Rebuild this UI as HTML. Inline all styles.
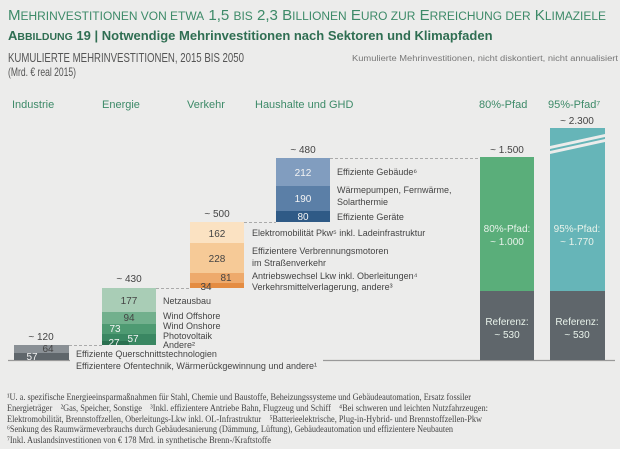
<!DOCTYPE html>
<html><head><meta charset="utf-8"><style>
body{margin:0;background:#ececeb}
svg{display:block}
text{font-family:"Liberation Sans",sans-serif}
.s{font-size:9px;fill:#444}
.n{font-size:10px;fill:#444;text-anchor:middle}
.w{font-size:10px;fill:#f4f4f4;text-anchor:middle}
.f{font-family:"Liberation Serif",serif;font-size:9.6px;fill:#444;white-space:pre}
</style></head><body>
<svg width="620" height="449" viewBox="0 0 620 449">
<rect width="620" height="449" fill="#ececeb"/>
<text x="8" y="20" font-size="14.5" fill="#3d8a68" textLength="598" lengthAdjust="spacingAndGlyphs">M<tspan font-size="11.5">EHRINVESTITIONEN VON ETWA</tspan> 1,5 <tspan font-size="11.5">BIS</tspan> 2,3 B<tspan font-size="11.5">ILLIONEN</tspan> E<tspan font-size="11.5">URO ZUR</tspan> E<tspan font-size="11.5">RREICHUNG DER</tspan> K<tspan font-size="11.5">LIMAZIELE</tspan></text>
<text x="8" y="40" font-size="13" font-weight="bold" fill="#2f6e52">A<tspan font-size="10.5">BBILDUNG</tspan> 19 | Notwendige Mehrinvestitionen nach Sektoren und Klimapfaden</text>
<text x="8" y="62" font-size="12.5" fill="#555" textLength="236" lengthAdjust="spacingAndGlyphs">KUMULIERTE MEHRINVESTITIONEN, 2015 BIS 2050</text>
<text x="8" y="76" font-size="12" fill="#555" textLength="68" lengthAdjust="spacingAndGlyphs">(Mrd. € real 2015)</text>
<text x="352" y="61" font-size="8" fill="#777" textLength="266" lengthAdjust="spacingAndGlyphs">Kumulierte Mehrinvestitionen, nicht diskontiert, nicht annualisiert</text>
<g font-size="11" fill="#3d8a68">
<text x="12" y="108">Industrie</text><text x="102" y="108">Energie</text><text x="187" y="108">Verkehr</text><text x="255" y="108">Haushalte und GHD</text><text x="479" y="108">80%-Pfad</text><text x="548" y="108">95%-Pfad⁷</text>
</g>
<line x1="8" y1="360.5" x2="70" y2="360.5" stroke="#999" stroke-width="1.2"/>
<line x1="323" y1="360.5" x2="615" y2="360.5" stroke="#999" stroke-width="1.2"/>
<g stroke="#aaa" stroke-dasharray="3,2">
<line x1="69" y1="345.5" x2="102" y2="345.5"/><line x1="156" y1="288.5" x2="190" y2="288.5"/><line x1="244" y1="222.5" x2="276" y2="222.5"/><line x1="330" y1="158.5" x2="480" y2="158.5"/>
</g>
<rect x="14" y="345" width="55" height="8" fill="#8a9095"/><rect x="14" y="353" width="55" height="7" fill="#5f666b"/>
<text class="n" x="41" y="340">~ 120</text>
<text class="n" x="48" y="352" fill="#333">64</text><text class="w" x="32" y="360">57</text>
<text class="s" x="76" y="357">Effiziente Querschnittstechnologien</text>
<text class="s" x="76" y="369">Effizientere Ofentechnik, Wärmerückgewinnung und andere¹</text>
<rect x="102" y="288" width="54" height="24" fill="#a9cdb6"/><rect x="102" y="312" width="54" height="12" fill="#72b08d"/><rect x="102" y="324" width="54" height="10" fill="#4e9a72"/><rect x="102" y="334" width="54" height="11" fill="#3a8762"/><rect x="102" y="341" width="27" height="4" fill="#2b7050"/>
<text class="n" x="129" y="282">~ 430</text>
<text class="n" x="129" y="304">177</text><text class="n" x="129" y="321">94</text><text class="w" x="115" y="332">73</text><text class="w" x="133" y="342">57</text><text class="w" x="114" y="346" font-size="9">27</text>
<text class="s" x="163" y="304">Netzausbau</text><text class="s" x="163" y="319">Wind Offshore</text><text class="s" x="163" y="329">Wind Onshore</text><text class="s" x="163" y="339">Photovoltaik</text><text class="s" x="163" y="348">Andere²</text>
<rect x="190" y="222" width="54" height="21" fill="#fbe2c2"/><rect x="190" y="243" width="54" height="30" fill="#f6ca97"/><rect x="190" y="273" width="54" height="10" fill="#eeaa6c"/><rect x="190" y="283" width="54" height="5" fill="#e48c42"/>
<text class="n" x="217" y="217">~ 500</text>
<text class="n" x="217" y="237">162</text><text class="n" x="217" y="262">228</text><text class="n" x="226" y="281">81</text><text class="n" x="206" y="290">34</text>
<text class="s" x="252" y="236">Elektromobilität Pkw⁵ inkl. Ladeinfrastruktur</text><text class="s" x="252" y="254">Effizientere Verbrennungsmotoren</text><text class="s" x="252" y="266">im Straßenverkehr</text><text class="s" x="252" y="279">Antriebswechsel Lkw inkl. Oberleitungen⁴</text><text class="s" x="252" y="290">Verkehrsmittelverlagerung, andere³</text>
<rect x="276" y="158" width="54" height="28" fill="#819dbf"/><rect x="276" y="186" width="54" height="25" fill="#5b7fa7"/><rect x="276" y="211" width="54" height="11" fill="#2f5a86"/>
<text class="n" x="303" y="153">~ 480</text>
<text class="w" x="303" y="176">212</text><text class="w" x="303" y="202">190</text><text class="w" x="303" y="220">80</text>
<text class="s" x="337" y="175">Effiziente Gebäude⁶</text><text class="s" x="337" y="193">Wärmepumpen, Fernwärme,</text><text class="s" x="337" y="205">Solarthermie</text><text class="s" x="337" y="220">Effiziente Geräte</text>
<rect x="480" y="157" width="54" height="134" fill="#5aae7a"/><rect x="480" y="291" width="54" height="69" fill="#5f666b"/>
<rect x="550" y="128" width="55" height="163" fill="#66b5b8"/><rect x="550" y="291" width="55" height="69" fill="#5f666b"/>
<polygon points="550,146 605,134 605,137 550,149" fill="#ececeb"/><polygon points="550,151 605,139 605,142 550,154" fill="#ececeb"/>
<text class="n" x="507" y="153">~ 1.500</text><text class="n" x="577" y="124">~ 2.300</text>
<g font-size="10" fill="#e8f2ea" text-anchor="middle">
<text x="507" y="232">80%-Pfad:</text><text x="507" y="245">~ 1.000</text>
<text x="577" y="232">95%-Pfad:</text><text x="577" y="245">~ 1.770</text>
<text x="507" y="325">Referenz:</text><text x="507" y="338">~ 530</text>
<text x="577" y="325">Referenz:</text><text x="577" y="338">~ 530</text>
</g>
<text class="f" x="7" y="400" textLength="464" lengthAdjust="spacingAndGlyphs">¹U. a. spezifische Energieeinsparmaßnahmen für Stahl, Chemie und Baustoffe, Beheizungssysteme und Gebäudeautomation, Ersatz fossiler</text>
<text class="f" x="7" y="411" textLength="481" lengthAdjust="spacingAndGlyphs">Energieträger    ²Gas, Speicher, Sonstige    ³Inkl. effizientere Antriebe Bahn, Flugzeug und Schiff    ⁴Bei schweren und leichten Nutzfahrzeugen:</text>
<text class="f" x="7" y="422" textLength="475" lengthAdjust="spacingAndGlyphs">Elektromobilität, Brennstoffzellen, Oberleitungs-Lkw inkl. OL-Infrastruktur    ⁵Batterieelektrische, Plug-in-Hybrid- und Brennstoffzellen-Pkw</text>
<text class="f" x="7" y="432" textLength="446" lengthAdjust="spacingAndGlyphs">⁶Senkung des Raumwärmeverbrauchs durch Gebäudesanierung (Dämmung, Lüftung), Gebäudeautomation und effizientere Neubauten</text>
<text class="f" x="7" y="443" textLength="264" lengthAdjust="spacingAndGlyphs">⁷Inkl. Auslandsinvestitionen von € 178 Mrd. in synthetische Brenn-/Kraftstoffe</text>
</svg>
</body></html>
